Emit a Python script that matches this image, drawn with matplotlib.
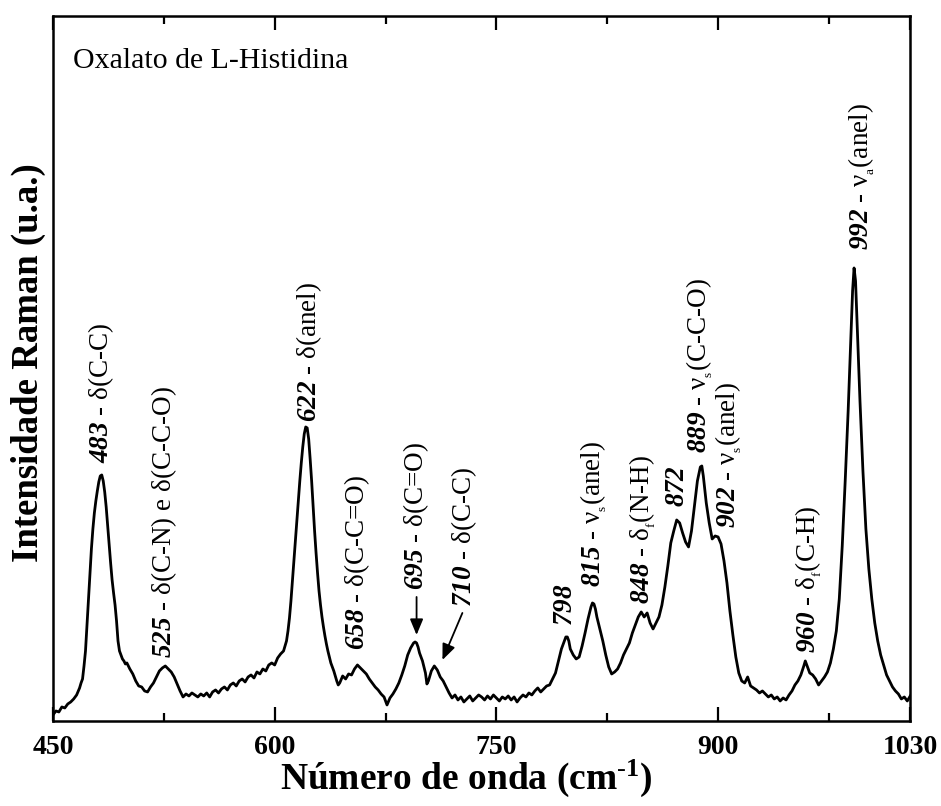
import matplotlib
matplotlib.use("Agg")
import matplotlib.pyplot as plt
from matplotlib.ticker import FixedLocator

plt.rcParams['font.family'] = ['Liberation Serif', 'DejaVu Serif']
plt.rcParams['mathtext.fontset'] = 'custom'
plt.rcParams['mathtext.rm'] = 'Liberation Serif'
plt.rcParams['mathtext.it'] = 'Liberation Serif:italic'
plt.rcParams['mathtext.bf'] = 'Liberation Serif:bold'
plt.rcParams['mathtext.bfit'] = 'Liberation Serif:italic:bold'

# Raman spectrum: wavenumber (cm-1) and intensity (arb. units)
wavenumber = [
    450, 452, 454, 456, 458, 460, 462, 464, 466, 468, 469, 470, 471, 472, 473, 474,
    475, 476, 477, 478, 479, 480, 481, 482, 483, 484, 485, 486, 487, 488, 489, 490,
    491, 492, 493, 494, 495, 496, 497, 498, 499, 500, 502, 504, 506, 508, 510, 512,
    514, 516, 518, 520, 522, 524, 526, 528, 530, 532, 534, 536, 538, 540, 542, 544,
    546, 548, 550, 552, 554, 556, 558, 560, 562, 564, 566, 568, 570, 572, 574, 576,
    578, 580, 582, 584, 586, 588, 590, 592, 594, 596, 598, 600, 602, 604, 606, 607,
    608, 609, 610, 611, 612, 613, 614, 615, 616, 617, 618, 619, 620, 621, 622, 623,
    624, 625, 626, 627, 628, 629, 630, 631, 632, 633, 634, 635, 636, 637, 638, 640,
    642, 643, 644, 646, 648, 650, 652, 654, 656, 658, 660, 662, 664, 666, 668, 670,
    672, 674, 676, 678, 680, 682, 684, 686, 688, 690, 692, 694, 695, 696, 697, 698,
    700, 702, 703, 704, 706, 708, 710, 712, 714, 716, 718, 720, 722, 724, 726, 728,
    730, 732, 734, 736, 738, 740, 742, 744, 746, 748, 750, 752, 754, 756, 758, 760,
    762, 764, 766, 768, 770, 772, 774, 776, 778, 780, 782, 784, 786, 788, 790, 792,
    794, 796, 797, 798, 799, 800, 802, 804, 806, 808, 810, 812, 814, 815, 816, 817,
    818, 820, 822, 824, 826, 828, 830, 832, 834, 836, 838, 840, 842, 844, 846, 848,
    850, 852, 854, 856, 858, 860, 862, 864, 866, 868, 870, 872, 874, 876, 878, 880,
    882, 884, 886, 888, 889, 890, 892, 894, 896, 898, 900, 902, 904, 906, 908, 910,
    912, 914, 916, 918, 920, 922, 924, 926, 928, 930, 932, 934, 936, 938, 940, 942,
    944, 946, 948, 950, 952, 954, 956, 958, 959, 960, 962, 964, 966, 968, 970, 972,
    974, 976, 978, 980, 982, 984, 986, 988, 990, 991, 992, 993, 994, 996, 998, 1000,
    1002, 1004, 1006, 1008, 1010, 1012, 1014, 1016, 1018, 1020, 1022, 1024, 1026, 1028, 1030,
]
intensity = [
    6, 10, 9, 14, 13, 17, 19, 22, 26, 33, 38, 42, 55, 70, 95, 121,
    147, 172, 192, 208, 220, 230, 239, 245, 246, 240, 229, 214, 195, 176, 158, 141,
    128, 116, 100, 80, 70, 66, 62, 60, 57, 58, 52, 47, 40, 35, 34, 30,
    29, 34, 38, 44, 50, 53, 55, 52, 49, 44, 37, 30, 24, 27, 25, 28,
    26, 24, 27, 25, 28, 24, 29, 31, 28, 32, 34, 31, 36, 38, 35, 40,
    42, 39, 44, 46, 43, 49, 47, 52, 50, 56, 58, 56, 63, 67, 70, 75,
    80, 90, 103, 120, 140, 160, 180, 200, 220, 240, 258, 274, 287, 294, 293, 282,
    262, 240, 215, 190, 168, 148, 130, 116, 104, 94, 85, 77, 70, 64, 58, 50,
    40, 36, 38, 45, 42, 47, 46, 52, 56, 53, 50, 47, 42, 38, 34, 31,
    27, 24, 16, 23, 27, 32, 38, 46, 55, 66, 73, 78, 79, 78, 74, 68,
    60, 48, 37, 40, 50, 55, 51, 44, 40, 34, 28, 23, 26, 21, 24, 19,
    22, 25, 20, 23, 26, 24, 21, 25, 22, 26, 23, 20, 24, 22, 25, 21,
    24, 19, 23, 26, 24, 28, 26, 30, 33, 29, 32, 35, 36, 42, 48, 60,
    72, 80, 84, 84, 80, 72, 66, 62, 64, 75, 88, 102, 114, 118, 117, 112,
    104, 92, 80, 66, 54, 47, 49, 52, 58, 66, 72, 78, 88, 96, 104, 109,
    104, 108, 98, 92, 98, 104, 116, 134, 155, 178, 190, 201, 198, 188, 179, 174,
    190, 215, 240, 254, 255, 245, 218, 198, 182, 185, 184, 177, 160, 138, 110, 86,
    64, 48, 40, 38, 44, 35, 33, 31, 28, 30, 27, 24, 26, 22, 24, 20,
    23, 21, 26, 30, 36, 40, 46, 55, 60, 56, 48, 46, 42, 36, 40, 44,
    49, 58, 72, 90, 122, 175, 240, 310, 390, 430, 453, 440, 400, 320, 250, 192,
    152, 122, 98, 80, 66, 56, 46, 40, 34, 30, 27, 22, 24, 20, 25,
]

# Band positions, assignments and where each label sits
band_numbers = ["483", "525", "622", "658", "695", "710", "798", "815",
                "848", "872", "889", "902", "960", "992"]
band_assignments = [
    " - δ(C-C)",
    " - δ(C-N) e δ(C-C-O)",
    " - δ(anel)",
    " - δ(C-C=O)",
    " - δ(C=O)",
    " - δ(C-C)",
    "",
    " - ν$_{_\\mathrm{s}}$(anel)",
    " - δ$_{_\\mathrm{f}}$(N-H)",
    "",
    " - ν$_{_\\mathrm{s}}$(C-C-O)",
    " - ν$_{_\\mathrm{s}}$(anel)",
    " - δ$_{_\\mathrm{f}}$(C-H)",
    " - ν$_{_\\mathrm{a}}$(anel)",
]
label_x = [482.5, 525.5, 623.5, 656.0, 696.0, 728.0, 797.0, 816.0,
           849.0, 872.5, 887.5, 907.0, 961.0, 997.0]
label_y = [258, 63, 299, 71, 131, 114, 95, 134,
           117, 214, 268, 193, 68, 471]

fig = plt.figure(figsize=(9.41, 8.06), dpi=100)
ax = fig.add_axes([0.0563, 0.1055, 0.911, 0.8747])

ax.plot(wavenumber, intensity, color='black', lw=2.0, solid_joinstyle='round')

ax.set_xlim(450, 1030)
ax.set_ylim(0, 705)
ax.set_yticks([])
ax.xaxis.set_major_locator(FixedLocator([450, 600, 750, 900, 1030]))
ax.xaxis.set_minor_locator(FixedLocator([525, 675, 825, 975]))
ax.tick_params(axis='x', which='both', direction='in', top=True, width=1.6)
ax.tick_params(axis='x', which='major', length=10, pad=10, labelsize=20)
ax.tick_params(axis='x', which='minor', length=6)
for lab in ax.get_xticklabels():
    lab.set_fontweight('bold')
for sp in ax.spines.values():
    sp.set_linewidth(1.8)

ax.set_xlabel("Número de onda (cm$^{\\text{-}\\mathbf{1}}$)", fontsize=27, fontweight='bold')
ax.xaxis.set_label_coords(0.482, -0.052)
ax.set_ylabel("Intensidade Raman (u.a.)", fontsize=26.5, fontweight='bold')
ax.yaxis.set_label_coords(-0.008, 0.508)

ax.text(0.0233, 0.926, "Oxalato de L-Histidina", transform=ax.transAxes,
        fontsize=21.5, ha='left', va='baseline')

for num, desc, x, y in zip(band_numbers, band_assignments, label_x, label_y):
    ax.text(x, y, "$\\mathbfit{" + num + "}$" + desc, rotation=90,
            ha='center', va='bottom', fontsize=19.5)

arrow_kw = dict(arrowstyle='-|>,head_length=0.6,head_width=0.25', color='black',
                lw=1.3, mutation_scale=16, shrinkA=0, shrinkB=0)
ax.annotate('', xy=(696, 86), xytext=(696, 124), arrowprops=arrow_kw)
ax.annotate('', xy=(713.5, 61), xytext=(727, 108), arrowprops=arrow_kw)

fig.savefig("out.png", dpi=100)
